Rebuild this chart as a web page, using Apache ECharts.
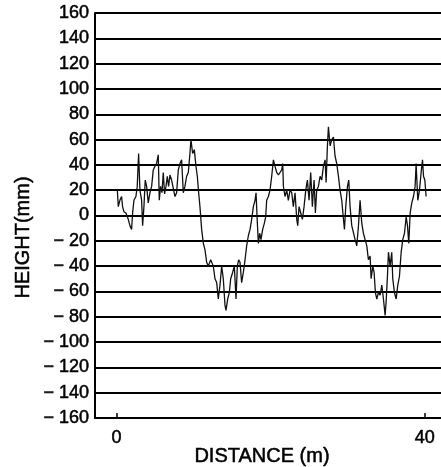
<!DOCTYPE html>
<html><head><meta charset="utf-8">
<script src="https://cdn.jsdelivr.net/npm/echarts@6/dist/echarts.min.js"></script>
<style>html,body{margin:0;padding:0;background:#fff}#c{width:441px;height:467px}</style>
</head><body><div id="c"></div>
<script>
const distance = [0.09,0.22,0.43,0.65,0.78,0.95,1.21,1.52,1.73,1.95,2.08,2.25,2.51,2.68,2.86,3.03,3.25,3.38,3.55,3.72,3.90,4.11,4.33,4.55,4.76,4.98,5.19,5.41,5.54,5.71,5.89,6.06,6.23,6.41,6.58,6.75,6.93,7.14,7.36,7.58,7.79,8.01,8.23,8.44,8.66,8.87,9.09,9.31,9.52,9.65,9.87,10.09,10.30,10.48,10.65,10.82,11.04,11.26,11.47,11.69,11.90,12.21,12.55,12.77,12.99,13.20,13.42,13.64,13.85,14.07,14.20,14.42,14.63,14.81,15.06,15.28,15.50,15.67,15.84,16.02,16.23,16.45,16.67,16.88,17.10,17.32,17.53,17.75,17.97,18.10,18.23,18.40,18.57,18.74,18.96,19.18,19.35,19.48,19.70,19.91,20.13,20.35,20.56,20.78,21.00,21.21,21.43,21.56,21.65,21.86,22.08,22.29,22.51,22.73,22.94,23.16,23.38,23.51,23.68,23.90,24.11,24.33,24.55,24.76,24.98,25.19,25.41,25.63,25.80,25.97,26.19,26.41,26.62,26.84,27.06,27.19,27.36,27.49,27.71,27.92,28.14,28.35,28.57,28.79,29.00,29.22,29.44,29.57,29.74,29.96,30.13,30.30,30.52,30.74,30.95,31.17,31.39,31.60,31.82,32.03,32.25,32.47,32.68,32.90,33.03,33.25,33.42,33.59,33.77,33.98,34.20,34.42,34.63,34.85,34.98,35.15,35.28,35.50,35.71,35.84,36.06,36.28,36.49,36.71,36.93,37.14,37.36,37.58,37.75,37.92,38.10,38.31,38.53,38.74,38.87,39.09,39.31,39.52,39.70,39.83,40.00,40.17];
const height = [21,7,12,15,7,3,2,-3,-8,-11,2,12,15,23,49,20,12,-8,7,28,23,10,18,23,36,39,41,48,12,23,18,34,17,23,31,23,32,28,28,15,18,36,41,44,18,23,31,34,49,60,49,52,39,31,18,7,-11,-22,-27,-37,-40,-35,-40,-50,-53,-66,-55,-40,-50,-71,-75,-66,-61,-50,-45,-40,-66,-40,-35,-37,-53,-45,-35,-24,-16,-11,-3,7,12,18,-1,-22,-14,-19,-11,-6,-1,12,15,20,31,44,39,34,32,31,36,41,23,15,20,12,20,18,7,18,-3,-8,7,2,-3,7,20,28,12,34,7,28,2,20,23,31,28,39,44,26,55,70,55,60,62,47,41,31,20,12,-3,-11,7,23,28,7,-8,-8,-19,-24,-8,12,-6,-14,-19,-24,-35,-32,-50,-40,-45,-61,-66,-61,-63,-55,-66,-79,-68,-48,-29,-40,-29,-50,-61,-66,-55,-48,-29,-19,-14,-1,-8,-22,2,10,15,23,41,12,20,34,44,31,28,15];
const xTicks = [0, 40];
const yMin = -160, yMax = 160, yStep = 20;
const xName = 'DISTANCE (m)';
const yName = 'HEIGHT(mm)';

const chart = echarts.init(document.getElementById('c'), null, {renderer: 'canvas'});
const font = 'Liberation Sans';
const txt = {fontFamily: font, color: '#000', textBorderColor: '#000', textBorderWidth: 0.5};
chart.setOption({
  backgroundColor: '#fff',
  animation: false,
  grid: {left: 95, right: 0, top: 13, bottom: 49, containLabel: false, outerBoundsMode: 'none'},
  xAxis: {
    type: 'value', min: -2.8, max: 42.1,
    name: xName, nameLocation: 'middle', nameGap: 28, nameMoveOverlap: false,
    nameTextStyle: Object.assign({fontSize: 20, padding: [0, 12, 0, 0]}, txt),
    axisLine: {show: true, onZero: false, lineStyle: {color: '#000', width: 2}},
    axisTick: {show: true, inside: true, length: 5, customValues: xTicks, lineStyle: {color: '#000', width: 1.5}},
    axisLabel: Object.assign({customValues: xTicks, margin: 11, fontSize: 18}, txt),
    splitLine: {show: false}
  },
  yAxis: {
    type: 'value', min: yMin, max: yMax, interval: yStep,
    name: yName, nameLocation: 'middle', nameGap: 62, nameRotate: 90, nameMoveOverlap: false,
    nameTextStyle: Object.assign({fontSize: 20, padding: [0, 44, 0, 0]}, txt),
    axisLine: {show: true, onZero: false, lineStyle: {color: '#000', width: 2}},
    axisTick: {show: false},
    axisLabel: Object.assign({margin: 6, fontSize: 18,
      formatter: v => (v < 0 ? '\u2212 ' + Math.abs(v) : String(v))}, txt),
    splitLine: {show: true, lineStyle: {color: '#000', width: 2}}
  },
  series: [{
    type: 'line',
    data: distance.map((d, i) => [d, height[i]]),
    showSymbol: false,
    lineStyle: {color: '#111', width: 1.3},
    z: 3
  }]
});
</script></body></html>
